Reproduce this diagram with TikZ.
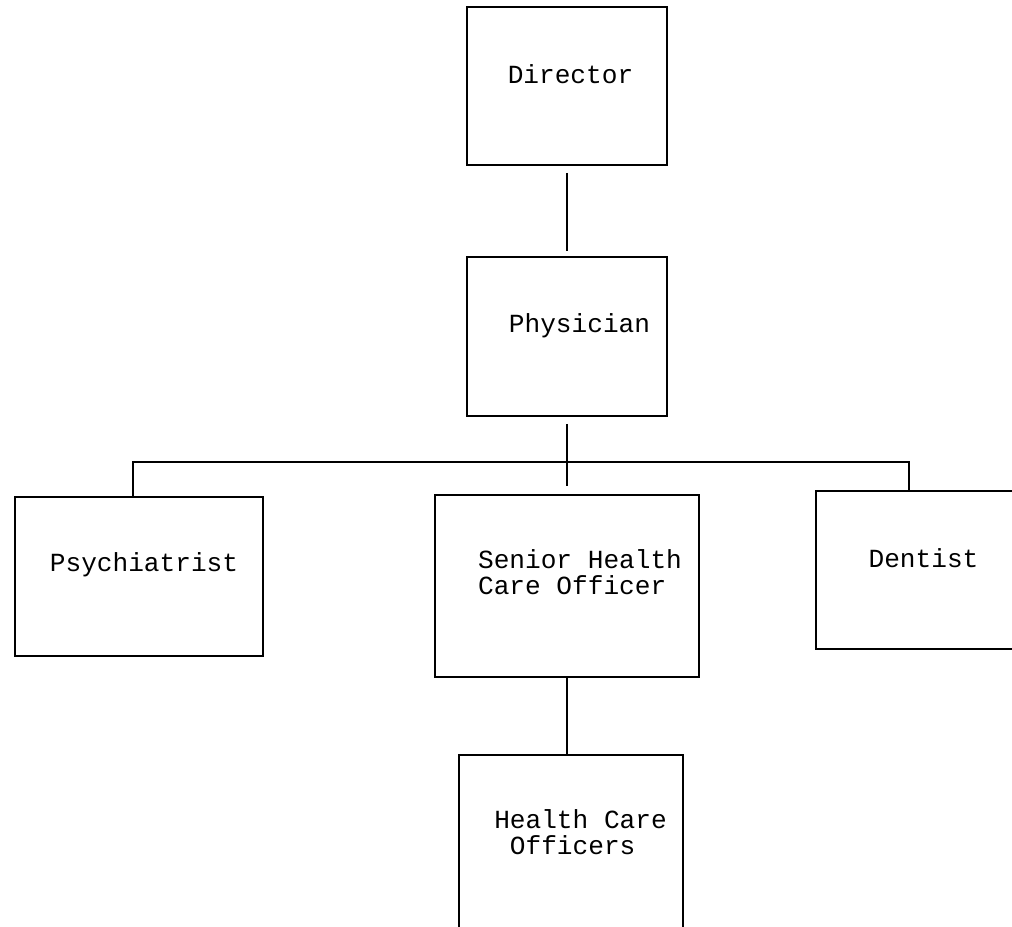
\documentclass[tikz,border=0pt]{standalone}
\usepackage{fontspec}
\newfontfamily\typefont{Liberation Mono}
\usepackage{tikz}
\tikzset{
post/.style={draw, line width=1.4pt, inner sep=0pt},
title/.style={font=\typefont\fontsize{19.6}{19.5}\selectfont, inner sep=0pt, align=left},
link/.style={line width=1.4pt}
}

\begin{document}
\begin{tikzpicture}[x=0.75pt, y=-0.75pt]
\useasboundingbox (0,0) rectangle (1012,926);
% boxes
\node[post, minimum width=150pt, minimum height=118.5pt] (dir) at (567,86) {};
\node[post, minimum width=150pt, minimum height=119.25pt] (phys) at (567,336.5) {};
\node[post, minimum width=186pt, minimum height=119.25pt] (psy) at (139,576.5) {};
\node[post, minimum width=198pt, minimum height=136.5pt] (sen) at (567,586) {};
\node[post, minimum width=160.5pt, minimum height=118.5pt] (dent) at (923,570) {};
\node[post, minimum width=168pt, minimum height=153.75pt] (hco) at (571,857.5) {};
% texts
\node[title] (dir-t) at (570.5,74) {Director};
\node[title] (phys-t) at (579.5,326) {Physician};
\node[title] (psy-t) at (144,565) {Psychiatrist};
\node[title] (sen-t) at (580,572) {Senior Health\\Care Officer};
\node[title] (dent-t) at (923.5,558) {Dentist};
\node[title] (hco-t) at (580.5,832.5) {Health Care\\\ Officers};
% lines
\coordinate (busL) at (133,462);
\coordinate (busR) at (909,462);
\draw[link, shorten <=5.25pt, shorten >=3.75pt] (dir.south) -- (phys.north);
\draw[link, shorten <=5.25pt, shorten >=6pt] (phys.south) -- (sen.north);
\draw[link] (psy.north -| busL) -- (busL) -- (busR) -- (busR |- dent.north);
\draw[link] (sen.south) -- (sen.south |- hco.north);
\end{tikzpicture}
\end{document}
